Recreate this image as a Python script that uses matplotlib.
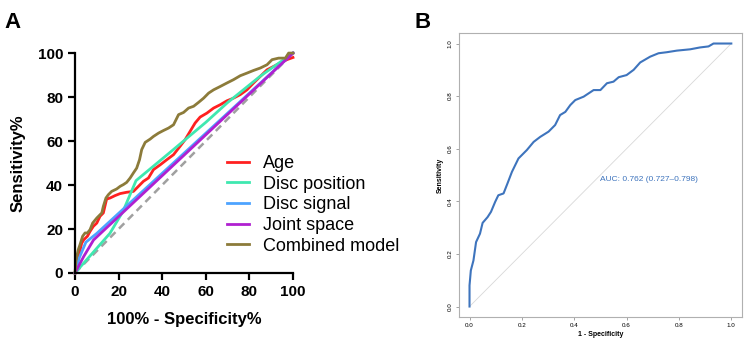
import matplotlib
matplotlib.use("Agg")
import matplotlib.pyplot as plt

plt.rcParams['font.family'] = ['Liberation Sans', 'DejaVu Sans']

# Panel A: ROC curves for each predictor (in %)
age_x = [0, 0.8, 2, 3.1, 4.1, 5.7, 6.9, 8.4, 10, 11.5, 13, 14.5, 16.1, 18.4, 20.7, 23.7, 26.8,
         29.1, 31.4, 33.7, 36, 39.1, 42.1, 45.2, 48.2, 50.5, 52.8, 55.1, 57.4, 60.5, 63.6,
         66.6, 69.7, 72.7, 75.8, 78.9, 81.9, 85, 88.1, 92.6, 97.2, 100]
age_y = [0, 3.8, 9, 13.6, 15.2, 16.7, 18.9, 21.2, 22.7, 25.8, 27.3, 33.6, 34.1, 35.2, 36.1, 36.7,
         37.1, 39.4, 41.7, 43.2, 47, 49.2, 51.5, 53.8, 57.6, 60.6, 64.4, 68.2, 70.9, 72.7, 75,
         76.5, 78.3, 79.5, 81.1, 83.3, 86.4, 89.4, 92.4, 94.7, 97, 98]
pos_x = [0, 8, 16, 22, 28, 45, 60, 70, 85, 100]
pos_y = [0, 9, 18, 28, 42, 56, 68.5, 77.5, 89.5, 100]
sig_x = [0, 2, 5, 10, 100]
sig_y = [0, 7, 14, 18, 100]
joint_x = [0, 4, 8.5, 100]
joint_y = [0, 7.5, 15, 100]
comb_x = [0, 0.5, 1.5, 2.3, 3.5, 4.6, 5.7, 6.9, 8.1, 10, 11.5, 12.3, 13, 14.2, 15.3, 16.8,
          19.1, 20.7, 22.2, 23.7, 25.3, 26.8, 28.3, 29.6, 30.6, 32.2, 34.5, 36, 38.3, 40.6,
          42.9, 45.2, 47.5, 49.8, 52.1, 54.4, 56.7, 59, 61.3, 63.6, 66.6, 69.7, 72.7, 75.8,
          78.9, 81.9, 85, 88.1, 90.4, 93.4, 96.5, 98, 100]
comb_y = [0, 6, 10.6, 12.9, 16.7, 18.2, 18.2, 19.7, 22.7, 25, 26.5, 27.3, 30.3, 34.1, 35.6,
          37.1, 38.2, 39.4, 40.2, 41.2, 43.2, 45.5, 47.7, 51.5, 56.1, 59.4, 60.9, 62.1, 63.6,
          64.8, 65.9, 67.4, 72, 73, 75, 75.8, 77.6, 79.5, 81.8, 83.3, 84.8, 86.4, 87.9, 89.7,
          90.9, 92.1, 93.2, 94.7, 97, 97.7, 97.7, 100, 100]

# Panel B: combined model ROC
roc_fpr = [0, 0, 0.005, 0.015, 0.025, 0.04, 0.05, 0.069, 0.082, 0.098, 0.11, 0.13, 0.145,
           0.162, 0.187, 0.219, 0.245, 0.27, 0.302, 0.327, 0.346, 0.366, 0.385, 0.404, 0.436,
           0.474, 0.5, 0.525, 0.55, 0.57, 0.6, 0.627, 0.652, 0.69, 0.722, 0.754, 0.792,
           0.843, 0.88, 0.913, 0.932, 1]
roc_tpr = [0, 0.08, 0.137, 0.175, 0.245, 0.277, 0.318, 0.34, 0.36, 0.398, 0.423, 0.43, 0.468,
           0.512, 0.563, 0.595, 0.626, 0.645, 0.665, 0.69, 0.728, 0.74, 0.766, 0.785, 0.798,
           0.823, 0.823, 0.849, 0.855, 0.872, 0.88, 0.9, 0.928, 0.95, 0.963, 0.967, 0.973,
           0.978, 0.985, 0.989, 1.0, 1]

fig = plt.figure(figsize=(7.44, 3.42), dpi=100)

# ---- panel A ----
ax = fig.add_axes([0.1008, 0.2018, 0.293, 0.643])
ax.plot([0, 100], [0, 100], color='#a0a0a0', lw=1.8, ls=(0, (3, 2)), clip_on=False)
series = [(age_x, age_y, '#ff2020', 'Age'),
          (pos_x, pos_y, '#3fe8b0', 'Disc position'),
          (sig_x, sig_y, '#4da3ff', 'Disc signal'),
          (joint_x, joint_y, '#b020d0', 'Joint space'),
          (comb_x, comb_y, '#8c7b3a', 'Combined model')]
for xs, ys, c, lab in series:
    ax.plot(xs, ys, color=c, lw=2, label=lab, clip_on=False)
ax.set_xlim(0, 100)
ax.set_ylim(0, 100)
ax.set_xticks(range(0, 101, 20))
ax.set_yticks(range(0, 101, 20))
for s in ['top', 'right']:
    ax.spines[s].set_visible(False)
for s in ['left', 'bottom']:
    ax.spines[s].set_linewidth(1.6)
ax.tick_params(width=1.6, length=5, labelsize=11)
for t in ax.get_xticklabels() + ax.get_yticklabels():
    t.set_fontweight('bold')
ax.set_xlabel('100% - Specificity%', fontsize=12, fontweight='bold', labelpad=9.5)
ax.set_ylabel('Sensitivity%', fontsize=12, fontweight='bold', labelpad=8.5)
ax.legend(loc='upper left', bbox_to_anchor=(0.697, 0.536), frameon=False, fontsize=13,
          handlelength=1.22, handletextpad=0.78, labelspacing=0.2, borderaxespad=0,
          borderpad=0)
fig.text(0.006, 0.965, 'A', fontsize=16, fontweight='bold', va='top')

# ---- panel B ----
bx = fig.add_axes([0.617, 0.073, 0.38, 0.8305])
bx.plot([0, 1], [0, 1], color='#d8d8d8', lw=0.6)
bx.plot(roc_fpr, roc_tpr, color='#3e74bd', lw=1.5)
bx.set_xlim(-0.04, 1.04)
bx.set_ylim(-0.04, 1.04)
ticks = [0, 0.2, 0.4, 0.6, 0.8, 1.0]
bx.set_xticks(ticks)
bx.set_yticks(ticks)
bx.set_xticklabels(['%.1f' % t for t in ticks])
bx.set_yticklabels(['%.1f' % t for t in ticks], rotation=90, va='center')
for s in bx.spines.values():
    s.set_color('#b0b0b0')
    s.set_linewidth(0.8)
bx.tick_params(labelsize=4.5, length=2.5, width=0.5, color='#808080', pad=2)
bx.set_xlabel('1 - Specificity', fontsize=5, fontweight='bold', labelpad=2)
bx.set_ylabel('Sensitivity', fontsize=5, fontweight='bold', labelpad=3)
bx.text(0.5, 0.484, 'AUC: 0.762 (0.727\u20130.798)', color='#3e74bd', fontsize=6.0, va='center')
fig.text(0.557, 0.965, 'B', fontsize=16, fontweight='bold', va='top')

fig.savefig('out.png', dpi=100)
